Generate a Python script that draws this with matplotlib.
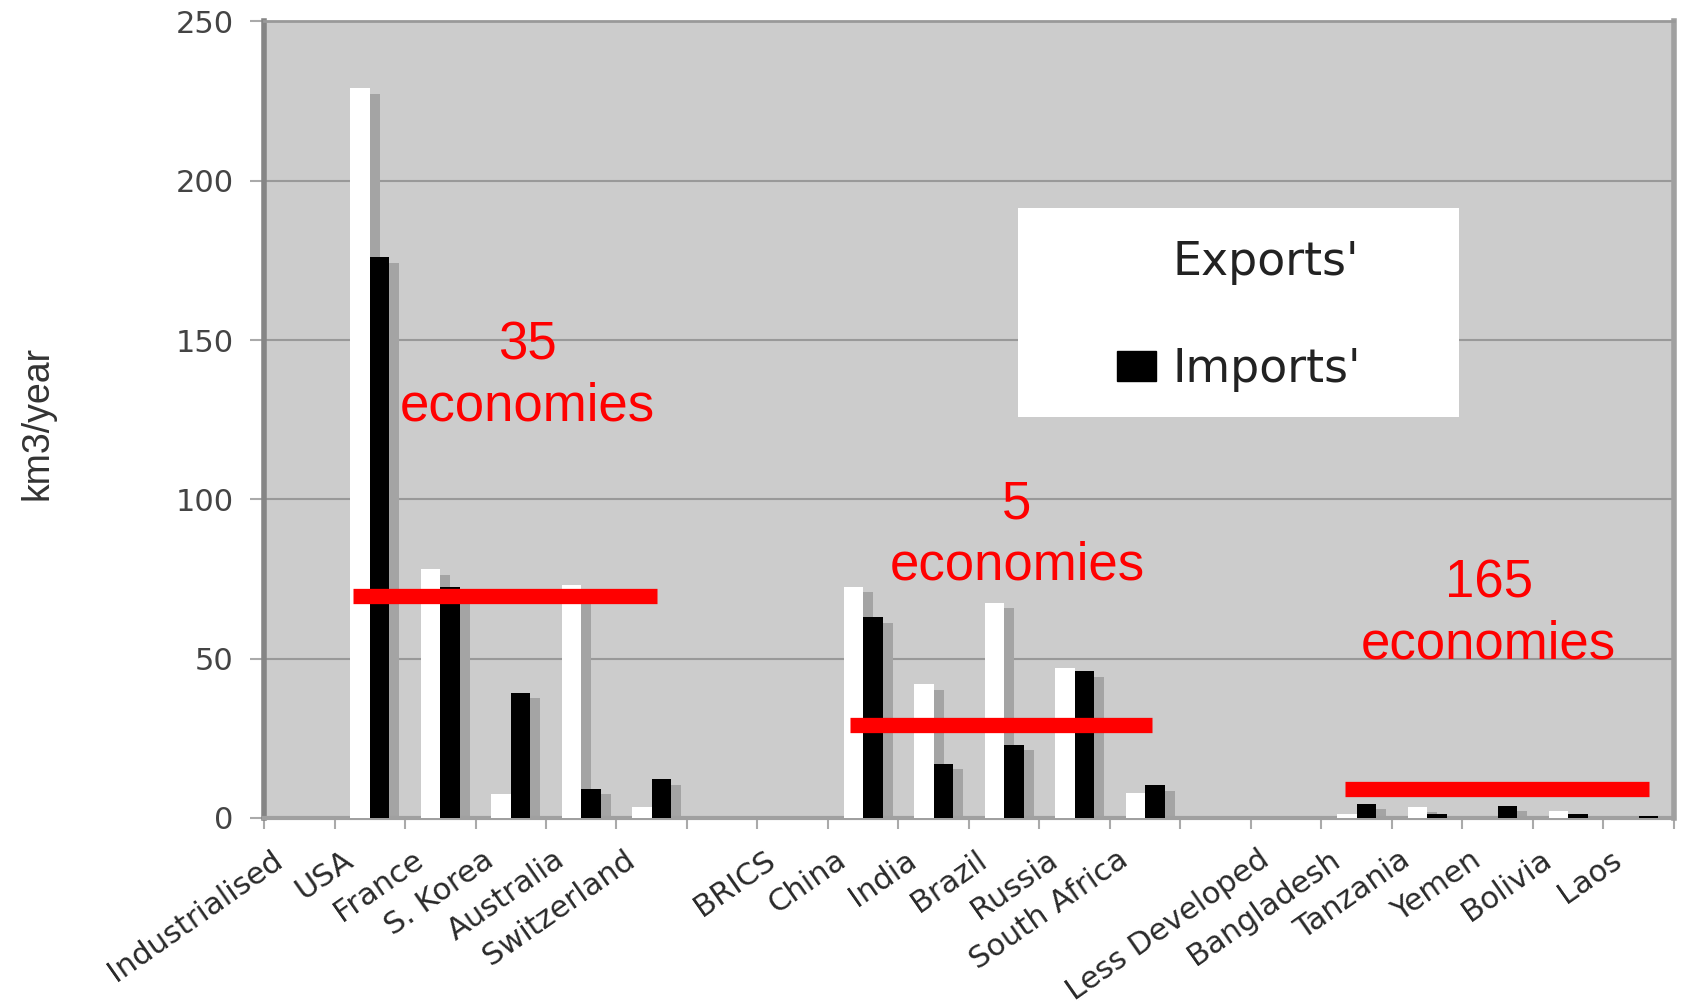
import matplotlib
matplotlib.use("Agg")
import matplotlib.pyplot as plt
import matplotlib.transforms as mtransforms
from matplotlib.patches import Patch, Rectangle
import numpy as np

# ---- data ----
categories = ["Industrialised", "USA", "France", "S. Korea", "Australia", "Switzerland", "",
              "BRICS", "China", "India", "Brazil", "Russia", "South Africa", "",
              "Less Developed", "Bangladesh", "Tanzania", "Yemen", "Bolivia", "Laos"]
exports = [0, 229, 78, 7.5, 73, 3.5, 0,
           0, 72.5, 42, 67.5, 47, 8, 0,
           0, 1.3, 3.5, 0, 2.2, 0]
imports = [0, 176, 72.5, 39.3, 9.2, 12.2, 0,
           0, 63, 17, 23, 46, 10.2, 0,
           0, 4.4, 1.3, 3.8, 1.3, 0.5]
series_names = ["Exports'", "Imports'"]

group_labels = ["35\neconomies", "5\neconomies", "165\neconomies"]
group_levels = [69.6, 29.2, 9.1]
group_spans = [(0.76, 5.07), (7.81, 12.1), (14.83, 19.15)]
group_label_pos = [(3.24, 124.9), (10.18, 75.0), (16.87, 50.0)]
yticks = [0, 50, 100, 150, 200, 250]
ylabel = "km3/year"

# ---- figure ----
fig = plt.figure(figsize=(16.88, 10.08), dpi=100)
ax = fig.add_axes([0.1564, 0.1885, 0.8353, 0.7902])
ax.set_facecolor("#cccccc")

x = np.arange(len(categories))
exp = np.array(exports, dtype=float)
imp = np.array(imports, dtype=float)
w = 0.28
sh_dx = 0.14
sh_dy = 1.7

# shadows
me = exp > 0
mi = imp > 0
ax.bar(x[me] - w / 2 + sh_dx, exp[me], w, bottom=-sh_dy, color="#a4a4a4", zorder=2, linewidth=0)
ax.bar(x[mi] + w / 2 + sh_dx, imp[mi], w, bottom=-sh_dy, color="#a4a4a4", zorder=2, linewidth=0)
# bars
ax.bar(x - w / 2, exp, w, color="white", zorder=3, linewidth=0)
ax.bar(x + w / 2, imp, w, color="black", zorder=3, linewidth=0)

ax.set_xlim(-0.5, len(categories) - 0.5)
ax.set_ylim(0, 250)

# grid / spines
ax.set_yticks(yticks)
ax.grid(axis="y", color="#999999", linewidth=1.5, zorder=1)
ax.set_axisbelow(True)
for side, lw, col in [("left", 4, "#858585"), ("bottom", 3, "#a0a0a0"),
                      ("right", 4, "#a0a0a0"), ("top", 2, "#999999")]:
    ax.spines[side].set_linewidth(lw)
    ax.spines[side].set_color(col)

ax.tick_params(axis="y", length=10, color="#aaaaaa", width=1.5, pad=12,
               labelsize=22, labelcolor="#444444")
for lbl in ax.get_yticklabels():
    lbl.set_family("DejaVu Sans")

ax.set_xticks(x)
ax.set_xticklabels(categories, rotation=35, ha="right", va="center",
                   rotation_mode="anchor", fontsize=22, color="#2a2a2a",
                   family="DejaVu Sans")
ax.set_xticks(np.arange(-0.5, len(categories), 1), minor=True)
ax.tick_params(axis="x", which="major", length=0, pad=28)
ax.tick_params(axis="x", which="minor", length=8, color="#aaaaaa", width=1.5)
off = mtransforms.ScaledTranslation(-0.2, 0, fig.dpi_scale_trans)
for lbl in ax.get_xticklabels():
    lbl.set_transform(lbl.get_transform() + off)

ax.set_ylabel(ylabel, fontsize=27, family="Liberation Sans", color="#333333")
ax.yaxis.set_label_coords(-0.148, 0.496)

# legend box
box = Rectangle((0.535, 0.503), 0.3125, 0.263, transform=ax.transAxes,
                facecolor="white", edgecolor="none", zorder=5)
ax.add_patch(box)
handles = [Patch(facecolor="white", edgecolor="white"), Patch(facecolor="black", edgecolor="black")]
leg = ax.legend(handles, series_names, loc="center", bbox_to_anchor=(0.6915, 0.630),
                frameon=False, prop={"family": "DejaVu Sans", "size": 33},
                handlelength=0.85, handleheight=0.65, handletextpad=0.35, labelspacing=1.35)
leg.set_zorder(6)
for t in leg.get_texts():
    t.set_color("#222222")

# group annotations
for (x0, x1), lvl in zip(group_spans, group_levels):
    ax.plot([x0, x1], [lvl, lvl], color="#ff0000", linewidth=11,
            solid_capstyle="butt", zorder=7)
for (tx, ty), lab in zip(group_label_pos, group_labels):
    ax.text(tx, ty, lab, color="#ff0000", fontsize=38, family="Liberation Sans",
            ha="center", va="baseline", multialignment="center",
            linespacing=1.28, zorder=8)

fig.savefig("out.png", dpi=100)
